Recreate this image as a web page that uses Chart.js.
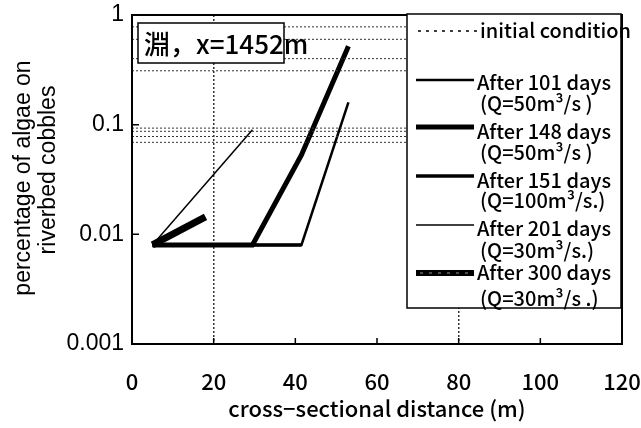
<!DOCTYPE html>
<html>
<head>
<meta charset="utf-8">
<script src="https://cdn.jsdelivr.net/npm/chart.js@4.4.1/dist/chart.umd.min.js"></script>
<style>
  html, body { margin: 0; padding: 0; background: #fff; }
</style>
</head>
<body>
<canvas id="myChart" width="641" height="428"></canvas>
<script>
// axis ticks
const xTicks = [0, 20, 40, 60, 80, 100, 120];
const yTicks = [0.001, 0.01, 0.1, 1];
const yTickLabels = ['0.001', '0.01', '0.1', '1'];

// initial condition: horizontal dotted levels
const initialX = [0, 120];
const initialLevels = [0.78, 0.60, 0.40, 0.31, 0.093, 0.087, 0.078, 0.069];

// series
const day101X = [5, 41.5, 53];
const day101Y = [0.008, 0.008, 0.16];
const day148X = [5, 29.5, 41.5, 53];
const day148Y = [0.008, 0.008, 0.053, 0.52];
const day151X = [5, 41.5];
const day151Y = [0.008, 0.008];
const day201X = [5, 29.5];
const day201Y = [0.008, 0.09];
const day300X = [5, 18];
const day300Y = [0.008, 0.0144];

const legendTitles = ['initial condition', 'After 101 days', 'After 148 days', 'After 151 days', 'After 201 days', 'After 300 days'];
const legendNotes = ['', '(Q=50m³/s )', '(Q=50m³/s )', '(Q=100m³/s.)', '(Q=30m³/s.)', '(Q=30m³/s .)'];

const gothic = '"Noto Sans CJK JP", "Noto Sans", sans-serif';
const arial = '"Liberation Sans", Arial, sans-serif';

const pts = (xs, ys) => xs.map((x, i) => ({ x: x, y: ys[i] }));

const datasets = [];
initialLevels.forEach((v) => {
  datasets.push({
    data: pts(initialX, [v, v]),
    borderColor: '#333',
    borderWidth: 1,
    borderDash: [2, 2],
    pointRadius: 0,
  });
});
const lineDs = (xs, ys, w) => ({
  data: pts(xs, ys),
  borderColor: '#000',
  borderWidth: w,
  pointRadius: 0,
  borderCapStyle: 'butt',
  borderJoinStyle: 'miter',
});
datasets.push(lineDs(day151X, day151Y, 3.5));
datasets.push(lineDs(day101X, day101Y, 2.5));
datasets.push(lineDs(day148X, day148Y, 5));
datasets.push(lineDs(day201X, day201Y, 1.5));
datasets.push(lineDs(day300X, day300Y, 7));
// light core of the 300 days line
datasets.push({
  data: pts(day300X, day300Y),
  borderColor: '#bbb',
  borderWidth: 1.5,
  borderDash: [3, 3],
  pointRadius: 0,
});

const decor = {
  id: 'decor',
  afterDraw(chart) {
    const ctx = chart.ctx;
    const a = chart.chartArea;
    const xs = chart.scales.x;
    const ys = chart.scales.y;
    ctx.save();

    // frame
    ctx.strokeStyle = '#000';
    ctx.lineWidth = 2;
    ctx.strokeRect(a.left, a.top, a.right - a.left, a.bottom - a.top);

    // inward ticks
    ctx.lineWidth = 1.5;
    ctx.beginPath();
    xTicks.slice(1, -1).forEach((t) => {
      const px = xs.getPixelForValue(t);
      ctx.moveTo(px, a.bottom);
      ctx.lineTo(px, a.bottom - 6);
    });
    [0.01, 0.1].forEach((t) => {
      const py = ys.getPixelForValue(t);
      ctx.moveTo(a.left, py);
      ctx.lineTo(a.left + 7, py);
    });
    ctx.stroke();

    // site label box
    ctx.fillStyle = '#fff';
    ctx.fillRect(138, 23, 146, 40);
    ctx.lineWidth = 1.5;
    ctx.strokeRect(138, 23, 146, 40);
    ctx.fillStyle = '#000';
    ctx.font = '500 26px ' + gothic;
    ctx.textBaseline = 'middle';
    ctx.textAlign = 'left';
    ctx.fillText('淵，x=1452m', 144, 44);

    // legend box
    const lx = 407, ly = 14, lw = 214, lh = 294;
    ctx.fillStyle = '#fff';
    ctx.fillRect(lx, ly, lw, lh);
    ctx.lineWidth = 1.5;
    ctx.strokeStyle = '#000';
    ctx.strokeRect(lx, ly, lw, lh);

    const titleY = [30, 82, 131, 180, 228, 272];
    const noteY = [0, 103, 152, 200, 250, 298];
    const sampleY = [31, 80, 127, 176, 225, 273];
    const sampleW = [1.5, 2.5, 5, 3.5, 1.5, 6];
    ctx.font = '500 20px ' + gothic;
    legendTitles.forEach((t, i) => {
      ctx.beginPath();
      ctx.strokeStyle = '#000';
      ctx.lineWidth = sampleW[i];
      ctx.setLineDash(i === 0 ? [3, 5] : []);
      ctx.moveTo(i === 0 ? 418 : 416, sampleY[i]);
      ctx.lineTo(i === 0 ? 478 : 474, sampleY[i]);
      ctx.stroke();
      if (i === 5) {
        ctx.beginPath();
        ctx.strokeStyle = '#999';
        ctx.lineWidth = 1;
        ctx.setLineDash([3, 6]);
        ctx.moveTo(420, sampleY[i]);
        ctx.lineTo(470, sampleY[i]);
        ctx.stroke();
      }
      ctx.setLineDash([]);
      ctx.fillStyle = '#000';
      ctx.fillText(t, i === 0 ? 480 : 477, titleY[i]);
      if (legendNotes[i]) ctx.fillText(legendNotes[i], 480, noteY[i]);
    });

    // axis titles
    ctx.font = '500 22px ' + gothic;
    ctx.textAlign = 'center';
    ctx.textBaseline = 'middle';
    ctx.fillText('cross−sectional distance (m)', 377, 409);

    ctx.textAlign = 'center';
    ctx.textBaseline = 'alphabetic';
    ctx.font = '23px ' + arial;
    ctx.save();
    ctx.translate(30, 178);
    ctx.rotate(-Math.PI / 2);
    ctx.fillText('percentage of algae on', 0, 0);
    ctx.restore();
    ctx.save();
    ctx.translate(55, 170);
    ctx.rotate(-Math.PI / 2);
    ctx.fillText('riverbed cobbles', 0, 0);
    ctx.restore();

    ctx.restore();
  },
};

new Chart(document.getElementById('myChart'), {
  type: 'line',
  data: { datasets: datasets },
  plugins: [decor],
  options: {
    responsive: false,
    animation: false,
    layout: { padding: { top: 15, right: 19, left: 0, bottom: 0 } },
    plugins: { legend: { display: false }, tooltip: { enabled: false } },
    scales: {
      x: {
        type: 'linear',
        min: 0,
        max: 120,
        afterBuildTicks: (s) => { s.ticks = xTicks.map((v) => ({ value: v })); },
        afterFit: (s) => { s.height = 84; s.paddingLeft = 0; s.paddingRight = 0; },
        ticks: { color: '#000', font: { family: gothic, size: 22, weight: '500' }, padding: 24, maxRotation: 0 },
        grid: {
          drawTicks: false,
          color: (c) => (c.tick && (c.tick.value === 20 || c.tick.value === 80) ? '#333' : 'rgba(0,0,0,0)'),
          lineWidth: 1.5,
        },
        border: { display: false, dash: [2, 2] },
      },
      y: {
        type: 'logarithmic',
        min: 0.001,
        max: 1,
        afterBuildTicks: (s) => { s.ticks = yTicks.map((v) => ({ value: v })); },
        afterFit: (s) => { s.width = 132; s.paddingTop = 0; s.paddingBottom = 0; },
        ticks: {
          color: '#000',
          font: { family: arial, size: 23 },
          padding: 8,
          callback: (v, i) => yTickLabels[i],
        },
        grid: { display: false, drawTicks: false },
        border: { display: false },
      },
    },
  },
});
</script>
</body>
</html>
